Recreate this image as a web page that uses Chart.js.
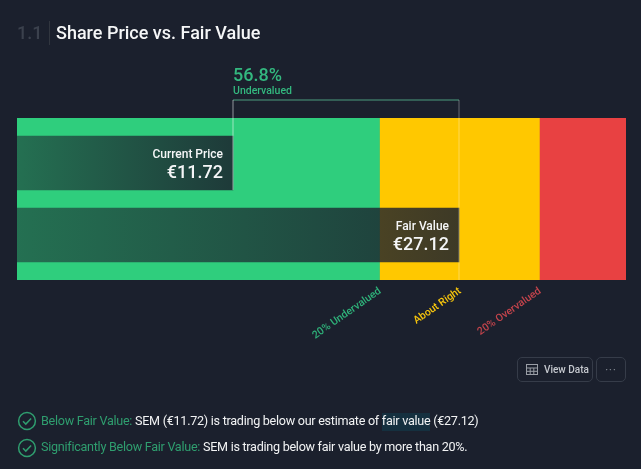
<!DOCTYPE html>
<html><head><meta charset="utf-8">
<script src="https://cdn.jsdelivr.net/npm/chart.js@4"></script>
<style>
html,body{margin:0;padding:0;background:#1b202d;width:641px;height:469px;overflow:hidden;font-family:Roboto,sans-serif}
#c{position:absolute;left:0;top:0}
.a{position:absolute;white-space:nowrap}
.btn{position:absolute;box-sizing:border-box;border:1px solid #363c49;border-radius:5px;height:25px;top:357px;color:#c6c9cf;font-size:10px;font-weight:500;line-height:23px}
.row{position:absolute;left:41px;font-size:12.6px;letter-spacing:-0.27px;color:#f2f3f4;white-space:nowrap;line-height:16px}
.row b{font-weight:400;color:#2f9e6f}
.row i{font-style:normal;background:#15303f;padding-bottom:3px}
svg{position:absolute}
</style></head><body>
<canvas id="c" width="641" height="469" style="width:641px;height:469px"></canvas>
<div class="a" style="left:17px;top:22px;font-size:18px;font-weight:500;color:#3b414d">1.1</div>
<div class="a" style="left:49px;top:21px;width:1px;height:24px;background:#31363f"></div>
<div class="a" style="left:56px;top:22px;font-size:18px;font-weight:500;color:#f5f6f7">Share Price vs. Fair Value</div>
<div class="btn" style="left:517px;width:76px;padding-left:26px">View Data</div>
<svg style="left:526px;top:364px" width="12" height="11" viewBox="0 0 12 11" fill="none" stroke="#9a9ea6" stroke-width="1"><rect x=".5" y=".5" width="11" height="10"/><path d="M.5 4H11.5M.5 7.3H11.5M4.2 4V10.5M7.8 4V10.5"/></svg>
<div class="btn" style="left:596px;width:30px;text-align:center;color:#7b808a;letter-spacing:1px">···</div>
<svg style="left:17px;top:411px" width="20" height="20" viewBox="0 0 20 20" fill="none" stroke="#2f9e6f" stroke-width="1.5"><circle cx="10" cy="10" r="8.4"/><path d="M6 10.3l2.8 2.8 5.3-5.6"/></svg>
<div class="row" style="top:413px"><b>Below Fair Value:</b> SEM (€11.72) is trading below our estimate of <i>fair value</i> (€27.12)</div>
<svg style="left:17px;top:438px" width="20" height="20" viewBox="0 0 20 20" fill="none" stroke="#2f9e6f" stroke-width="1.5"><circle cx="10" cy="10" r="8.4"/><path d="M6 10.3l2.8 2.8 5.3-5.6"/></svg>
<div class="row" style="top:439px"><b>Significantly Below Fair Value:</b> SEM is trading below fair value by more than 20%.</div>
<script>
const currentPrice = 11.72;
const fairValue = 27.12;
const axisMin = -3;
const axisMax = 38.5;
const zoneEdges = [21.7, 32.6];
const zoneLabels = ["20% Undervalued", "About Right", "20% Overvalued"];
const zoneTicks = [21.75, 27.2, 32.65];
const tickColors = ["#2fb27a", "#f8c60c", "#c4444c"];
const discountText = "56.8%";
const discountLabel = "Undervalued";
const barRows = [2.5, 6.5];
const zoneRow = 4.5;

function shade(ctx, end) {
  const ch = ctx.chart, sx = ch.scales.x;
  const x0 = sx ? sx.getPixelForValue(axisMin) : NaN, x1 = sx ? sx.getPixelForValue(end) : NaN;
  if (!isFinite(x0) || !isFinite(x1)) return "rgba(27,32,45,0.7)";
  const g = ch.ctx.createLinearGradient(x0, 0, x1, 0);
  g.addColorStop(0, "rgba(27,32,45,0.54)");
  g.addColorStop(1, "rgba(27,32,45,0.85)");
  return g;
}
const zone = (a, b, color) => ({ type:"bar", data:[{x:[a,b], y:zoneRow}], backgroundColor:color, barThickness:162, order:5, grouped:false });
const priceBar = (v, row) => ({ type:"bar", data:[{x:[axisMin,v], y:row}], backgroundColor:c=>shade(c,v), barThickness:54, order:3, grouped:false });
const link = (pts, color) => ({ type:"line", data:pts, borderColor:color, borderWidth:1, pointRadius:0, clip:false, order:1, tension:0 });

const labelsPlugin = {
  id:"labels",
  afterDatasetsDraw(ch){
    const c = ch.ctx, x = ch.scales.x, y = ch.scales.y;
    c.save();
    c.fillStyle = "#f5f6f7"; c.textAlign = "right"; c.textBaseline = "alphabetic";
    [["Current Price", currentPrice, barRows[0]], ["Fair Value", fairValue, barRows[1]]].forEach(([name, v, r]) => {
      const px = x.getPixelForValue(v) - 10, py = y.getPixelForValue(r);
      c.font = "500 12px Roboto";
      c.fillText(name, px, py - 5);
      c.font = "500 18px Roboto";
      c.fillText("€" + v.toFixed(2), px, py + 15);
    });
    c.textAlign = "left"; c.fillStyle = "#33b87f";
    const px = x.getPixelForValue(currentPrice);
    c.font = "500 18px Roboto";
    c.fillText(discountText, px, 81);
    c.font = "500 10.5px Roboto";
    c.fillText(discountLabel, px, 94);
    c.restore();
  }
};

new Chart(document.getElementById("c"), {
  type:"bar",
  data:{ datasets:[
    zone(axisMin, zoneEdges[0], "#2fce7d"),
    zone(zoneEdges[0], zoneEdges[1], "#ffc800"),
    zone(zoneEdges[1], axisMax, "#e84142"),
    priceBar(currentPrice, barRows[0]),
    priceBar(fairValue, barRows[1]),
    link([{x:currentPrice,y:-1},{x:currentPrice,y:4}], "rgba(255,255,255,0.2)"),
    link([{x:fairValue,y:-1},{x:fairValue,y:9}], "rgba(255,255,255,0.12)"),
    link([{x:currentPrice,y:-1},{x:fairValue,y:-1}], "#4d9c7e")
  ]},
  options:{
    indexAxis:"y", responsive:false, animation:false,
    layout:{ padding:{ left:17, right:15, top:118, bottom:0 } },
    plugins:{ legend:{display:false}, tooltip:{enabled:false}, title:{display:false} },
    scales:{
      x:{ type:"linear", min:axisMin, max:axisMax,
        grid:{display:false}, border:{display:false},
        afterBuildTicks(s){ s.ticks = zoneTicks.map(v=>({value:v})); },
        afterFit(s){ s.height = 189; s.paddingLeft = 0; s.paddingRight = 0; },
        ticks:{ autoSkip:false, minRotation:35, maxRotation:35, padding:-3,
          font:{family:"Roboto", size:10.5, weight:"500"},
          color:c=>tickColors[c.index],
          callback:(v,i)=>zoneLabels[i] }
      },
      y:{ type:"linear", min:0, max:9, reverse:true, display:false, offset:false }
    }
  },
  plugins:[labelsPlugin]
});
</script>
</body></html>
